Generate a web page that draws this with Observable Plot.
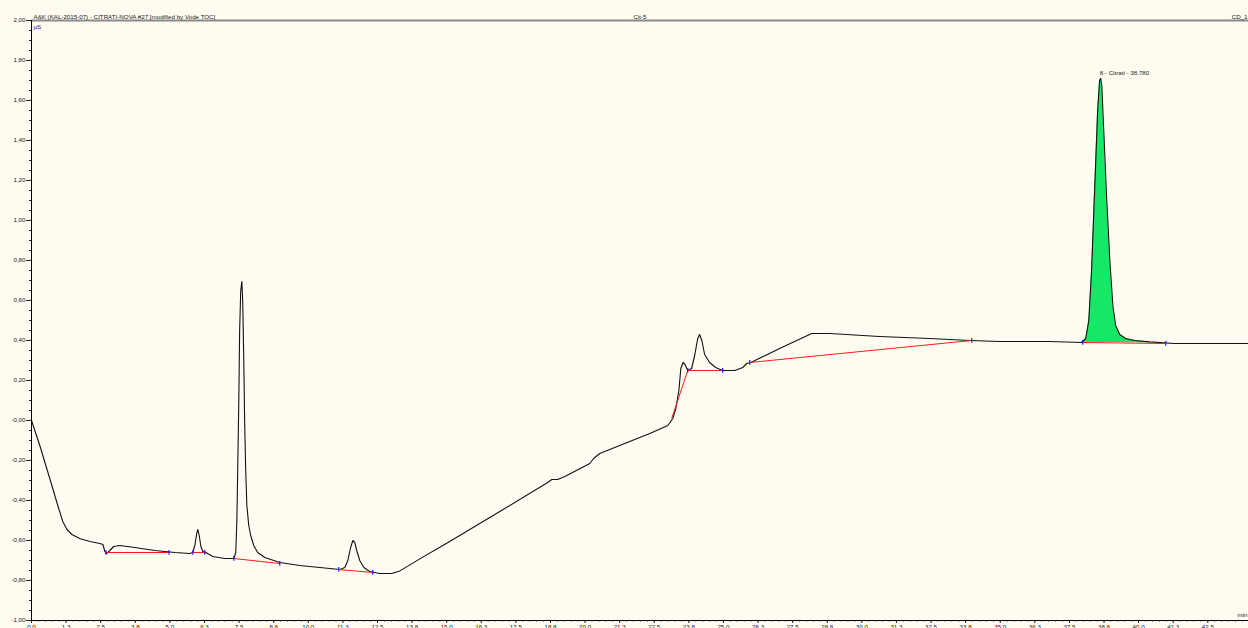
<!DOCTYPE html>
<html><head><meta charset="utf-8">
<script src="https://cdn.jsdelivr.net/npm/d3@7"></script>
<script src="https://cdn.jsdelivr.net/npm/@observablehq/plot@0.6"></script>
<style>
html,body{margin:0;padding:0;background:#fffbf0;}
#chart svg{display:block;}
</style></head><body><div id="chart"></div>
<script>
// ---- chromatogram trace (time in min, signal in µS) ----
const times = [0.00,0.30,0.66,0.95,1.13,1.28,1.46,1.74,2.11,2.47,2.58,2.65,2.72,2.83,2.97,3.19,3.73,4.46,5.18,5.72,
  5.83,5.90,5.97,6.01,6.06,6.12,6.19,6.30,6.55,6.98,7.31,7.38,7.42,7.45,7.49,7.52,7.56,7.60,7.63,7.67,
  7.70,7.74,7.78,7.85,7.92,8.03,8.17,8.43,8.97,9.69,10.42,11.14,11.32,11.43,11.53,11.61,11.68,11.75,11.86,12.01,
  12.22,12.58,13.02,13.31,14.03,15.11,16.92,18.65,18.80,19.01,19.27,20.17,20.31,20.53,21.25,22.34,22.99,23.17,23.28,23.39,
  23.46,23.54,23.61,23.71,23.85,23.96,24.07,24.14,24.22,24.32,24.50,24.72,24.97,25.41,25.70,25.84,25.99,27.03,28.19,28.84,
  30.64,32.45,33.90,34.98,36.79,37.94,38.09,38.20,38.30,38.41,38.52,38.59,38.63,38.67,38.74,38.85,38.96,39.07,39.17,39.32,
  39.53,39.86,40.40,41.30,43.97];
const values = [0.000,-0.125,-0.290,-0.425,-0.505,-0.545,-0.570,-0.590,-0.605,-0.615,-0.620,-0.655,-0.665,-0.650,-0.630,-0.625,-0.635,-0.650,-0.660,-0.665,
  -0.660,-0.625,-0.565,-0.545,-0.575,-0.630,-0.655,-0.660,-0.680,-0.690,-0.690,-0.660,-0.500,-0.250,0.100,0.450,0.650,0.695,0.600,0.300,
  0.000,-0.250,-0.425,-0.525,-0.575,-0.625,-0.660,-0.685,-0.710,-0.725,-0.735,-0.745,-0.735,-0.700,-0.635,-0.600,-0.610,-0.650,-0.700,-0.735,
  -0.755,-0.765,-0.765,-0.752,-0.692,-0.605,-0.455,-0.310,-0.295,-0.295,-0.280,-0.215,-0.190,-0.165,-0.125,-0.065,-0.025,0.010,0.060,0.150,
  0.260,0.290,0.280,0.250,0.260,0.325,0.410,0.430,0.400,0.330,0.290,0.265,0.250,0.250,0.265,0.285,0.290,0.360,0.435,0.435,
  0.420,0.410,0.400,0.395,0.395,0.390,0.410,0.500,0.750,1.150,1.550,1.700,1.710,1.675,1.450,1.100,0.800,0.575,0.475,0.430,
  0.410,0.400,0.393,0.385,0.385];

// ---- integration baselines (red) ----
const baseStartT = [2.69, 5.83, 7.31, 11.10, 23.13, 23.71, 25.95, 37.98];
const baseStartV = [-0.660,-0.660,-0.690,-0.745,0.010,0.250,0.290,0.390];
const baseEndT   = [4.97, 6.26, 8.97, 12.33, 23.71, 24.97, 33.97, 40.98];
const baseEndV   = [-0.660,-0.660,-0.715,-0.760,0.250,0.250,0.400,0.385];

// ---- peak start/end markers (blue) ----
const eventT = [2.69,4.97,5.83,6.26,7.31,8.97,11.10,12.33,23.71,24.97,25.95,33.97,37.98,40.98];
const eventV = [-0.660,-0.660,-0.660,-0.660,-0.690,-0.715,-0.745,-0.760,0.250,0.250,0.290,0.400,0.390,0.385];

// ---- identified peak (green area) ----
const citrateT = [37.94,38.09,38.20,38.30,38.41,38.52,38.59,38.63,38.67,38.74,38.85,38.96,39.07,39.17,39.32,39.53,39.86,40.40];
const citrateV = [0.390,0.410,0.500,0.750,1.150,1.550,1.700,1.710,1.675,1.450,1.100,0.800,0.575,0.475,0.430,0.410,0.400,0.393];
const citrateBase = [0.390,0.390,0.390,0.390,0.390,0.390,0.390,0.390,0.390,0.390,0.390,0.390,0.390,0.390,0.390,0.389,0.389,0.388];
const peakName = "8 - Citrati - 38,780";
const peakT = 38.63, peakV = 1.71;

// ---- axes ----
const yTicks  = [-1.0,-0.8,-0.6,-0.4,-0.2,0.0,0.2,0.4,0.6,0.8,1.0,1.2,1.4,1.6,1.8,2.0];
const yLabels = ["-1,00","-0,80","-0,60","-0,40","-0,20","-0,00","0,20","0,40","0,60","0,80","1,00","1,20","1,40","1,60","1,80","2,00"];
const xTicks  = [0,1.25,2.5,3.75,5,6.25,7.5,8.75,10,11.25,12.5,13.75,15,16.25,17.5,18.75,20,21.25,22.5,23.75,25,26.25,27.5,28.75,30,31.25,32.5,33.75,35,36.25,37.5,38.75,40,41.25,42.5];
const xLabels = ["0,0","1,3","2,5","3,8","5,0","6,3","7,5","8,8","10,0","11,3","12,5","13,8","15,0","16,3","17,5","18,8","20,0","21,3","22,5","23,8","25,0","26,3","27,5","28,8","30,0","31,3","32,5","33,8","35,0","36,3","37,5","38,8","40,0","41,3","42,5"];
const xMinor = d3.range(0, 43.9, 0.25);
const yMinor = d3.range(-1, 2.001, 0.05);

const title = "A&K (KAL-2015-07) - CITRATI-NOVA #27 [modified by Vode TOC]";
const midTitle = "Cit-5";
const detector = "CD_1";
const yUnit = "µS";
const xUnit = "min";

const trace = times.map((t, i) => ({t, v: values[i]}));
const baselines = baseStartT.map((t, i) => ({t1: t, v1: baseStartV[i], t2: baseEndT[i], v2: baseEndV[i]}));
const events = eventT.map((t, i) => ({t, v: eventV[i]}));
const citrate = citrateT.map((t, i) => ({t, v: citrateV[i], b: citrateBase[i]}));

const fs = 6.2;
const chart = Plot.plot({
  width: 1248, height: 628,
  marginLeft: 31, marginRight: 0, marginTop: 20, marginBottom: 8,
  style: {background: "#fffbf0", fontFamily: "'Liberation Sans', Arial, sans-serif", fontSize: "6.2px", color: "#222", overflow: "visible"},
  x: {domain: [0, 43.97]},
  y: {domain: [-1, 2]},
  marks: [
    Plot.areaY(citrate, {x: "t", y1: "b", y2: "v", fill: "#14e866"}),
    Plot.line(trace, {x: "t", y: "v", stroke: "#111", strokeWidth: 1.1}),
    Plot.link(baselines, {x1: "t1", y1: "v1", x2: "t2", y2: "v2", stroke: "#ff1a1a", strokeWidth: 1}),
    Plot.ruleX(events, {x: "t", y1: d => d.v - 0.014, y2: d => d.v + 0.01, stroke: "#1a1aff", strokeWidth: 1.2}),
    Plot.ruleY([2], {stroke: "#8a8a8a", strokeWidth: 2}),
    Plot.ruleX([0], {stroke: "#000", strokeWidth: 1}),
    Plot.ruleY([-1], {stroke: "#000", strokeWidth: 1}),
    Plot.axisY(yTicks, {tickSize: 5, tickPadding: 1, tickFormat: d => yLabels[yTicks.indexOf(d)], label: null, fontSize: fs}),
    Plot.axisY(yMinor, {tickSize: 2, tickFormat: () => "", label: null}),
    Plot.axisX(xTicks, {tickSize: 3, tickPadding: 1, tickFormat: d => xLabels[xTicks.indexOf(d)], label: null, fontSize: fs}),
    Plot.axisX(xMinor, {tickSize: 1.5, tickFormat: () => "", label: null}),
    Plot.text([title], {frameAnchor: "top-left", dx: 2, dy: -6, textAnchor: "start", fontSize: fs}),
    Plot.text([yUnit], {frameAnchor: "top-left", dx: 2, dy: 4, textAnchor: "start", fontSize: fs}),
    Plot.text([midTitle], {frameAnchor: "top", dy: -6, fontSize: fs}),
    Plot.text([detector], {frameAnchor: "top-right", dx: -1, dy: -6, textAnchor: "end", fontSize: fs}),
    Plot.text([xUnit], {frameAnchor: "bottom-right", dx: -1, dy: -4, textAnchor: "end", fontSize: fs}),
    Plot.text([peakName], {x: () => peakT, y: () => peakV, dx: -1, dy: -5, textAnchor: "start", fontSize: fs})
  ]
});
document.getElementById("chart").appendChild(chart);
</script></body></html>
